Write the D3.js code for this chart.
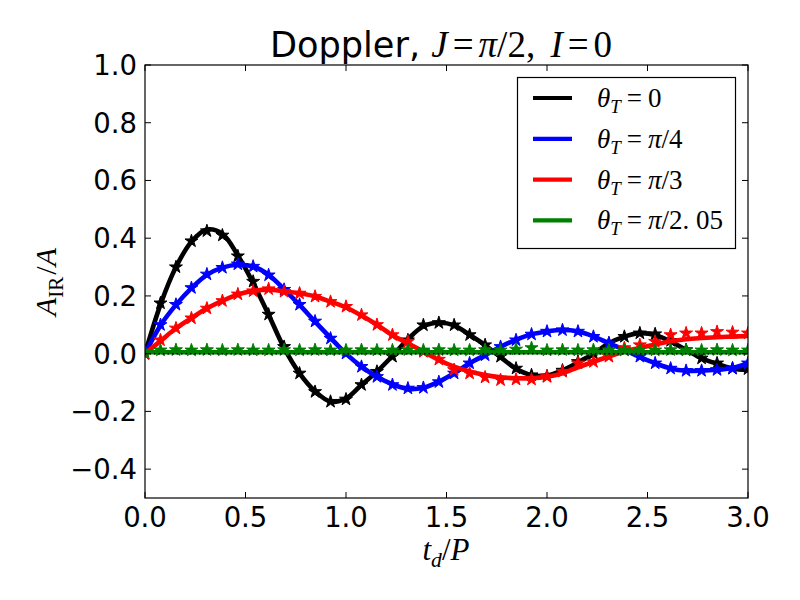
<!DOCTYPE html>
<html><head><meta charset="utf-8">
<script src="https://cdn.jsdelivr.net/npm/d3@7"></script>
<style>body{margin:0;background:#fff}svg{display:block}</style>
</head><body><svg id="c" width="800" height="600"></svg>
<script>
// ---- data ----
const tValues = [0, 0.077, 0.154, 0.231, 0.308, 0.385, 0.462, 0.538, 0.615, 0.692, 0.769, 0.846, 0.923, 1.0, 1.077, 1.154, 1.231, 1.308, 1.385, 1.462, 1.538, 1.615, 1.692, 1.769, 1.846, 1.923, 2.0, 2.077, 2.154, 2.231, 2.308, 2.385, 2.462, 2.538, 2.615, 2.692, 2.769, 2.846, 2.923, 3.0];

const blackLine = [0, 0.17, 0.30, 0.388, 0.43, 0.415, 0.34, 0.245, 0.135, 0.02, -0.068, -0.13, -0.166, -0.155, -0.108, -0.062, -0.008, 0.05, 0.095, 0.107, 0.098, 0.065, 0.03, -0.012, -0.052, -0.074, -0.076, -0.058, -0.03, 0.0, 0.036, 0.059, 0.071, 0.065, 0.042, 0.013, -0.016, -0.035, -0.051, -0.056];
const blackStars = [0, 0.175, 0.30, 0.39, 0.425, 0.41, 0.338, 0.25, 0.136, 0.024, -0.068, -0.132, -0.166, -0.158, -0.108, -0.062, -0.01, 0.047, 0.099, 0.107, 0.099, 0.065, 0.03, -0.01, -0.051, -0.074, -0.078, -0.058, -0.028, 0.001, 0.036, 0.059, 0.071, 0.068, 0.045, 0.013, -0.016, -0.033, -0.051, -0.053];

const blueLine = [0, 0.098, 0.169, 0.227, 0.273, 0.298, 0.308, 0.302, 0.273, 0.223, 0.169, 0.111, 0.055, 0.0, -0.045, -0.08, -0.106, -0.122, -0.118, -0.097, -0.068, -0.033, -0.005, 0.024, 0.048, 0.067, 0.077, 0.082, 0.077, 0.06, 0.036, 0.013, -0.012, -0.033, -0.051, -0.059, -0.059, -0.056, -0.05, -0.033];
const blueStars = [0, 0.1, 0.17, 0.228, 0.275, 0.298, 0.31, 0.302, 0.272, 0.222, 0.17, 0.112, 0.053, 0.001, -0.045, -0.08, -0.108, -0.12, -0.118, -0.098, -0.068, -0.033, -0.005, 0.024, 0.047, 0.067, 0.077, 0.082, 0.077, 0.059, 0.036, 0.013, -0.01, -0.033, -0.051, -0.059, -0.059, -0.056, -0.051, -0.033];

const redLine = [0, 0.044, 0.088, 0.123, 0.157, 0.183, 0.205, 0.217, 0.222, 0.216, 0.209, 0.198, 0.18, 0.16, 0.132, 0.1, 0.064, 0.036, 0.007, -0.022, -0.045, -0.062, -0.074, -0.082, -0.085, -0.085, -0.08, -0.068, -0.047, -0.028, -0.01, 0.007, 0.02, 0.032, 0.043, 0.05, 0.054, 0.057, 0.059, 0.061];
const redStars = [0, 0.047, 0.088, 0.123, 0.157, 0.183, 0.206, 0.217, 0.224, 0.215, 0.209, 0.198, 0.18, 0.163, 0.134, 0.1, 0.065, 0.042, 0.007, -0.02, -0.056, -0.068, -0.082, -0.091, -0.089, -0.089, -0.08, -0.062, -0.033, -0.028, -0.01, 0.02, 0.03, 0.042, 0.065, 0.071, 0.071, 0.076, 0.074, 0.071];

const greenLine = [0.005, 0.005, 0.005, 0.005, 0.005, 0.005, 0.005, 0.005, 0.005, 0.005, 0.005, 0.005, 0.005, 0.005, 0.005, 0.005, 0.005, 0.005, 0.005, 0.005, 0.005, 0.005, 0.005, 0.005, 0.005, 0.005, 0.005, 0.005, 0.005, 0.005, 0.005, 0.005, 0.005, 0.005, 0.005, 0.005, 0.005, 0.005, 0.005, 0.005];
const greenStars = [0.004, 0.012, 0.013, 0.012, 0.013, 0.012, 0.013, 0.012, 0.012, 0.013, 0.012, 0.013, 0.012, 0.012, 0.013, 0.012, 0.012, 0.013, 0.012, 0.013, 0.012, 0.012, 0.013, 0.012, 0.015, 0.02, 0.012, 0.013, 0.012, 0.013, 0.012, 0.012, 0.013, 0.012, 0.013, 0.012, 0.012, 0.013, 0.012, 0.012];

const seriesNames = ["θT=0", "θT=π/4", "θT=π/3", "θT=π/2.05"];
const seriesColors = ["#000000", "#0000ff", "#ff0000", "#008000"];
const xTicks = [0, 0.5, 1.0, 1.5, 2.0, 2.5, 3.0];
const yTicks = [-0.4, -0.2, 0.0, 0.2, 0.4, 0.6, 0.8, 1.0];

// ---- chart ----
const svg = d3.select("#c");
svg.append("rect").attr("width", 800).attr("height", 600).attr("fill", "#fff");
const X0 = 145, X1 = 748, Y0 = 65, Y1 = 498;
const x = d3.scaleLinear().domain([0, 3]).range([X0, X1]);
const y = d3.scaleLinear().domain([-0.5, 1.0]).range([Y1, Y0]);

const SANS = "'DejaVu Sans', sans-serif";
const SERIF = "'Liberation Serif', 'DejaVu Serif', serif";

const plot = svg.append("g");
plot.append("clipPath").attr("id", "clip").append("rect")
  .attr("x", X0).attr("y", Y0).attr("width", X1 - X0).attr("height", Y1 - Y0);
const body = plot.append("g").attr("clip-path", "url(#clip)");

const lineGen = d3.line().x((d, i) => x(tValues[i])).y(d => y(d)).curve(d3.curveCatmullRom.alpha(0.5));
const star = d3.symbol().type(d3.symbolStar).size(52);

const allSeries = [
  [blackLine, blackStars], [blueLine, blueStars], [redLine, redStars], [greenLine, greenStars]
];
allSeries.forEach(([ln, st], k) => {
  body.append("path").attr("d", lineGen(ln)).attr("fill", "none")
    .attr("stroke", seriesColors[k]).attr("stroke-width", 4.6).attr("stroke-linejoin", "round");
  body.append("g").selectAll("path").data(st).join("path")
    .attr("d", star)
    .attr("transform", (d, i) => `translate(${x(tValues[i])},${y(d)})`)
    .attr("fill", seriesColors[k]).attr("stroke", seriesColors[k]).attr("stroke-width", 1);
});

// dotted zero line
body.append("line").attr("x1", X0).attr("x2", X1).attr("y1", y(0)).attr("y2", y(0))
  .attr("stroke", "#000").attr("stroke-width", 1.5).attr("stroke-dasharray", "1.5,3");

// frame
plot.append("rect").attr("x", X0).attr("y", Y0).attr("width", X1 - X0).attr("height", Y1 - Y0)
  .attr("fill", "none").attr("stroke", "#000").attr("stroke-width", 1.2);

// ticks (inside, all four sides)
const TL = 6;
const fmt = v => (v < 0 ? "\u2212" : "") + Math.abs(v).toFixed(1);
const ax = svg.append("g");
xTicks.forEach(t => {
  const px = x(t);
  ax.append("line").attr("x1", px).attr("x2", px).attr("y1", Y1).attr("y2", Y1 - TL).attr("stroke", "#000");
  ax.append("line").attr("x1", px).attr("x2", px).attr("y1", Y0).attr("y2", Y0 + TL).attr("stroke", "#000");
  ax.append("text").attr("x", px).attr("y", 527).attr("text-anchor", "middle")
    .attr("font-family", SANS).attr("font-size", 27.5).text(fmt(t));
});
yTicks.forEach(t => {
  const py = y(t);
  ax.append("line").attr("x1", X0).attr("x2", X0 + TL).attr("y1", py).attr("y2", py).attr("stroke", "#000");
  ax.append("line").attr("x1", X1).attr("x2", X1 - TL).attr("y1", py).attr("y2", py).attr("stroke", "#000");
  ax.append("text").attr("x", 137).attr("y", py + 10).attr("text-anchor", "end")
    .attr("font-family", SANS).attr("font-size", 27.5).text(fmt(t));
});

// math-like text helper
function mtext(sel, parts, size) {
  parts.forEach(p => {
    const [txt, kind, dx] = p;
    const ts = sel.append("tspan").text(txt);
    if (dx) ts.attr("dx", dx);
    if (kind === "s") ts.attr("font-family", SANS).attr("font-size", size * 0.95);
    else ts.attr("font-family", SERIF);
    if (kind === "i") ts.attr("font-style", "italic");
    if (kind === "subi" || kind === "subr") {
      ts.attr("font-size", size * 0.7).attr("dy", size * 0.22);
      if (kind === "subi") ts.attr("font-style", "italic");
    }
    if (p[3] === "up") ts.attr("dy", -size * 0.22);
  });
}

// title
const title = svg.append("text").attr("x", 441).attr("y", 57).attr("text-anchor", "middle")
  .attr("font-size", 37).attr("fill", "#000");
mtext(title, [["Doppler, ", "s"], ["J", "i"], ["=", "r", 5], ["π", "i", 5], ["/2, ", "r"], ["I", "i", 6], ["=", "r", 5], ["0", "r", 5]], 37);

// x label
const xl = svg.append("text").attr("x", 446).attr("y", 560).attr("text-anchor", "middle").attr("font-size", 31);
mtext(xl, [["t", "i"], ["d", "subi"], ["/", "r", 0, "up"], ["P", "i"]], 31);

// y label
const yl = svg.append("text").attr("transform", "translate(56,282) rotate(-90)").attr("text-anchor", "middle").attr("font-size", 30);
mtext(yl, [["A", "i"], ["IR", "subr"], ["/", "r", 2, "up"], ["A", "i"]], 30);

// legend
const lg = svg.append("g");
lg.append("rect").attr("x", 517.5).attr("y", 77.5).attr("width", 218).attr("height", 171)
  .attr("fill", "#fff").attr("stroke", "#000").attr("stroke-width", 1.2);
const legendLabels = [
  [["θ", "i"], ["T", "subi"], ["=", "r", 6, "up"], ["0", "r", 6]],
  [["θ", "i"], ["T", "subi"], ["=", "r", 6, "up"], ["π", "i", 6], ["/4", "r"]],
  [["θ", "i"], ["T", "subi"], ["=", "r", 6, "up"], ["π", "i", 6], ["/3", "r"]],
  [["θ", "i"], ["T", "subi"], ["=", "r", 6, "up"], ["π", "i", 6], ["/2. 05", "r"]]
];
seriesNames.forEach((name, k) => {
  const cy = 98 + k * 40.8;
  lg.append("line").attr("x1", 533).attr("x2", 572).attr("y1", cy).attr("y2", cy)
    .attr("stroke", seriesColors[k]).attr("stroke-width", 4.2);
  const t = lg.append("text").attr("x", 597).attr("y", cy + 9).attr("font-size", 27).attr("fill", "#000");
  mtext(t, legendLabels[k], 27);
});
</script></body></html>
